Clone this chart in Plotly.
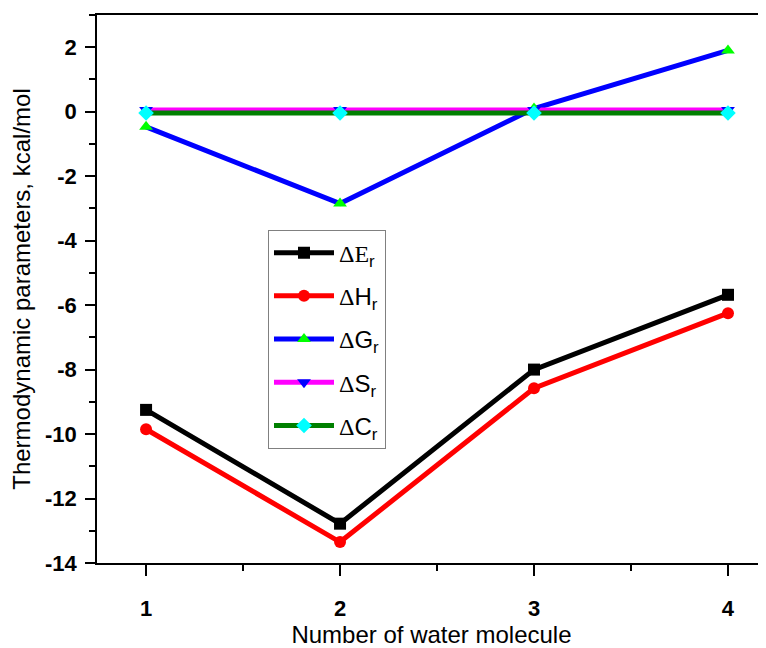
import plotly.graph_objects as go

x_vals = [1, 2, 3, 4]
x_labels = ["1", "2", "3", "4"]
y_ticks = [-14, -12, -10, -8, -6, -4, -2, 0, 2]
y_labels = ["-14", "-12", "-10", "-8", "-6", "-4", "-2", "0", "2"]
y_minor = [-13, -11, -9, -7, -5, -3, -1, 1, 3]
dE = [-9.25, -12.78, -8.0, -5.68]
dH = [-9.85, -13.35, -8.58, -6.25]
dG = [-0.47, -2.85, 0.1, 1.9]
dS = [0.05, 0.05, 0.05, 0.05]
dC = [-0.04, -0.04, -0.04, -0.04]

names = ["E", "H", "G", "S", "C"]
series = [dE, dH, dG, dS, dC]
line_colors = ["black", "red", "blue", "magenta", "green"]
marker_colors = ["black", "red", "#00ff00", "blue", "cyan"]
symbols = ["square", "circle", "triangle-up", "triangle-down", "diamond"]

fig = go.Figure()
for i, (n, ys) in enumerate(zip(names, series)):
    fig.add_trace(go.Scatter(
        x=x_vals, y=ys, mode="lines+markers",
        name='<span style="font-family:Liberation Serif">Δ</span>'
             + ('<span style="font-family:Liberation Serif">E</span>' if n == "E" else n)
             + "<sub>r</sub>",
        legendgroup=n,
        line=dict(color=line_colors[i], width=5),
        marker=dict(color=marker_colors[i], symbol=symbols[i], size=12,
                    line=dict(width=0)),
    ))

# page body has an 8px margin, so the figure is 8px smaller and margins shifted
fig.update_layout(
    width=758, height=640,
    margin=dict(l=89, r=0, t=7, b=85),
    paper_bgcolor="white", plot_bgcolor="white",
    font=dict(family="Liberation Sans", color="black"),
    showlegend=True,
    legend=dict(
        x=0.2556, y=0.6085, xanchor="left", yanchor="top",
        bgcolor="white", bordercolor="#808080", borderwidth=1,
        font=dict(size=24, family="Liberation Sans", color="black"),
        tracegroupgap=9, itemwidth=60,
    ),
    xaxis=dict(
        range=[0.747, 4.196], tickvals=x_vals, ticktext=x_labels,
        showline=True, linecolor="black", linewidth=1.5, mirror=True,
        ticks="outside", ticklen=11, tickwidth=1.5, tickcolor="black",
        minor=dict(dtick=0.5, ticks="outside", ticklen=6, tickwidth=1.5, tickcolor="black"),
        tickfont=dict(size=22, family="Liberation Sans", weight="bold"),
        ticklabelstandoff=14,
        showgrid=False, zeroline=False,
        title=dict(text="Number of water molecule", font=dict(size=24), standoff=6),
    ),
    yaxis=dict(
        range=[-14, 3], tickvals=y_ticks, ticktext=y_labels,
        showline=True, linecolor="black", linewidth=1.5, mirror=False,
        ticks="outside", ticklen=10, tickwidth=1.5, tickcolor="black",
        minor=dict(tickvals=y_minor, ticks="outside",
                   ticklen=6, tickwidth=1.5, tickcolor="black"),
        tickfont=dict(size=22, family="Liberation Sans", weight="bold"),
        ticklabelstandoff=4,
        showgrid=False, zeroline=False,
        title=dict(text="Thermodynamic parameters, kcal/mol", font=dict(size=24), standoff=12),
    ),
)

fig.write_html("out.html")
